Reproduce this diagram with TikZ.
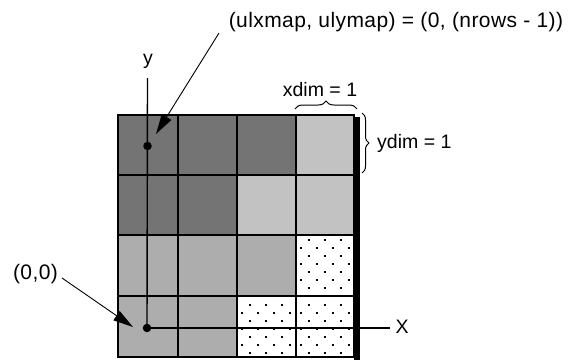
\documentclass[tikz,border=0pt]{standalone}
\usepackage{fontspec}
\setmainfont{Liberation Sans}
\newfontfamily\widefont[LetterSpace=2]{Liberation Sans}
\usetikzlibrary{arrows.meta,decorations.pathreplacing}
\definecolor{darkcell}{HTML}{747474}
\definecolor{midcell}{HTML}{C2C2C2}
\definecolor{lightcell}{HTML}{ADADAD}
\tikzset{
  lbl/.style={inner sep=0pt, font=\fontsize{19.5}{22}\selectfont},
  widelbl/.style={inner sep=0pt, font=\fontsize{21}{24}\widefont},
  leader/.style={line width=0.9pt, -{Triangle[length=20pt,width=11pt]}},
  gridline/.style={line width=1.5pt},
  axis/.style={line width=1.4pt},
  brc/.style={decorate, decoration={brace, amplitude=#1}, line width=1pt},
  pnt/.style={circle, fill=black, inner sep=0pt, minimum size=8.5pt},
}
\begin{document}
\begin{tikzpicture}[x=1pt,y=-1pt]
\useasboundingbox (0,0) rectangle (570,360);
% cell fills
\fill[darkcell] (118,115) rectangle (296,175);
\fill[darkcell] (118,175) rectangle (237,235);
\fill[midcell] (296,115) rectangle (354,175);
\fill[midcell] (237,175) rectangle (354,235);
\fill[lightcell] (118,235) rectangle (296,296);
\fill[lightcell] (118,296) rectangle (237,357);
% sparse dotted cells
\foreach \cl/\ct/\off in {296/235/5, 237/296/9, 296/296/9}{
  \begin{scope}
    \clip (\cl,\ct) rectangle ++(58,61);
    \foreach \k in {0,...,7}{
      \foreach \i in {0,...,3}{
        \pgfmathsetmacro{\dx}{\cl+13-8*mod(\k,2)+16*\i}
        \pgfmathsetmacro{\dy}{\ct+\off+8*\k}
        \fill (\dx-1,\dy-1) rectangle ++(2,2);
      }
    }
  \end{scope}
}
% grid
\fill (354,117) rectangle (360,360);
\draw[gridline] (118,115) rectangle (354,357);
\foreach \gx in {178,237,296}{\draw[gridline] (\gx,115) -- (\gx,357);}
\foreach \gy in {175,235,296}{\draw[gridline] (118,\gy) -- (354,\gy);}
% axes
\node[pnt] (ul) at (147.5,146) {};
\node[pnt] (o) at (147,328) {};
\coordinate (ytop) at (147.5,78);
\coordinate (xend) at (390,328);
\draw[axis] (ytop) -- (o.center);
\draw[axis] (o.center) -- (xend);
\node[lbl] (ylab) at (148,61) {y};
\node[lbl] (xlab) at (402,327) {X};
% labels and leaders
\node[widelbl] (ullab) at (396,22) {(ulxmap, ulymap) = (0, (nrows - 1))};
\coordinate (ulstart) at (219,33);
\coordinate (ultip) at (156,134);
\draw[leader] (ulstart) -- (ultip);
\node[widelbl] (origlab) at (35.5,274) {(0,0)};
\coordinate (origstart) at (62,278);
\coordinate (origtip) at (133,327);
\draw[leader] (origstart) -- (origtip);
% braces
\coordinate (xb1) at (295,109);
\coordinate (xb2) at (357,109);
\draw[brc=8pt] (xb1) -- (xb2);
\node[lbl] (xdimlab) at (320,90) {xdim = 1};
\coordinate (yb1) at (362,113);
\coordinate (yb2) at (362,173);
\draw[brc=7pt] (yb1) -- (yb2);
\node[lbl, anchor=west] (ydimlab) at (377,143) {ydim = 1};
\end{tikzpicture}
\end{document}
